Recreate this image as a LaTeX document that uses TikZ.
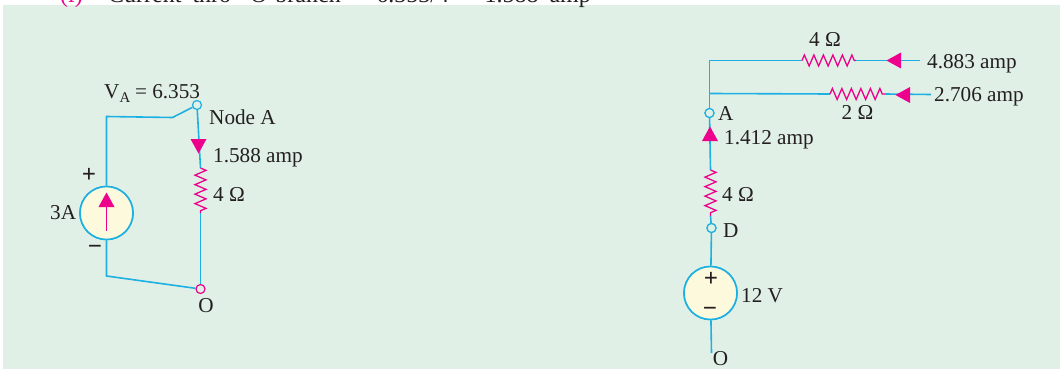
\documentclass[tikz,border=0pt]{standalone}
\usepackage{fontspec}
\setmainfont{Liberation Serif}
\usetikzlibrary{decorations.pathmorphing}

\definecolor{bgcol}{HTML}{E1F0E6}
\definecolor{wirecol}{HTML}{1DB0E2}
\definecolor{rescol}{HTML}{EC008C}
\definecolor{srccol}{HTML}{FDF9DC}
\definecolor{txtcol}{HTML}{231F20}

\tikzset{
    wire/.style={wirecol, line width=1.6pt},
    res/.style={rescol, line width=1.3pt, decorate, decoration={zigzag, amplitude=5.5pt, segment length=9.5pt}},
    term/.style={circle, draw=wirecol, fill=bgcol, line width=1.2pt, inner sep=0pt, minimum size=9pt},
    source/.style={circle, draw=wirecol, fill=srccol, line width=1.6pt, inner sep=0pt, minimum size=53pt},
    lbl/.style={text=txtcol, font=\fontsize{21.2}{24}\selectfont, inner sep=0pt},
    sign/.style={text=txtcol, font=\fontsize{25}{27}\selectfont\bfseries, inner sep=0pt},
    headline/.style={font=\fontsize{24}{26}\selectfont, inner sep=0pt},
    tip/.style={fill=rescol, draw=none}
}

% triangular arrow head: centre, then direction
\newcommand{\headat}[2]{\fill[tip, shift={(#1)}, rotate=#2] (7.5,0) -- (-7,8) -- (-7,-8) -- cycle;}

\begin{document}
\begin{tikzpicture}[x=1pt, y=-1pt]
    \useasboundingbox (0,0) rectangle (1060,369);
    \fill[bgcol] (3,5) rectangle (1060,369);

    % Line of text cut by the top edge
    \node[headline, anchor=base west, text=rescol] (num) at (60,3) {(i)};
    \node[headline, anchor=base west, text=txtcol] (head) at (108,3) {\spaceskip=11pt Current thro' O-branch = 6.353/4 = 1.588 amp};

    % Left circuit: nodes
    \node[source] (srcL) at (106.5,213) {};
    \node[term] (nodeA) at (197,105) {};
    \node[term, draw=rescol] (nodeO) at (200.5,289) {};
    \coordinate (kneeA) at (172.5,117.5);
    \coordinate (cornerT) at (106.5,116.5);
    \coordinate (cornerB) at (106.5,276);
    \coordinate (resLt) at (200.5,168);
    \coordinate (resLb) at (200.5,213);

    % Left circuit: wires
    \draw[wire] (srcL) -- (cornerT) -- (kneeA) -- (nodeA);
    \draw[wire] (nodeA) -- (resLt);
    \draw[wire] (resLb) -- (nodeO);
    \draw[wire] (srcL) -- (cornerB) -- (nodeO);
    \node[source] at (srcL) {};
    \draw[res] (resLt) -- (resLb);
    \draw[rescol, line width=1.3pt] (106.5,231) -- (106.5,203);
    \headat{106.5,200}{90}
    \headat{198.5,146}{-90}

    % Left circuit: labels
    \node[lbl, anchor=base west] (labVA) at (104,99) {V\textsubscript{A}\kern-1pt{} = 6.353};
    \node[lbl, anchor=base west] (labNode) at (209,124) {Node A};
    \node[lbl, anchor=base west] (labAmp) at (213,162) {1.588 amp};
    \node[lbl, anchor=base west] (labR) at (213,201) {4 Ω};
    \node[lbl, anchor=base west] (lab3A) at (50,219) {3A};
    \node[sign] (labPlus) at (89,175) {+};
    \node[sign] (labMinus) at (95,250) {−};
    \node[lbl, anchor=base] (labO) at (206,312) {O};

    % Right circuit: nodes
    \node[term] (nodeB) at (709.5,113) {};
    \node[term] (nodeD) at (711.5,228) {};
    \node[source] (srcR) at (710.5,293) {};
    \coordinate (endO) at (711.5,353);
    \coordinate (topC) at (709.5,60.5);
    \coordinate (midC) at (709.5,93.5);
    \coordinate (resAl) at (802,60.5);
    \coordinate (resAr) at (856,60.5);
    \coordinate (endA) at (919.5,60.5);
    \coordinate (resBl) at (830,94);
    \coordinate (resBr) at (885,94);
    \coordinate (endB) at (931,94.5);
    \coordinate (resCt) at (710.5,170);
    \coordinate (resCb) at (710.5,216);

    % Right circuit: wires
    \draw[wire] (nodeB) -- (topC) -- (resAl);
    \draw[res] (resAl) -- (resAr);
    \draw[wire] (resAr) -- (endA);
    \draw[wire] (midC) -- (resBl);
    \draw[res] (resBl) -- (resBr);
    \draw[wire] (resBr) -- (endB);
    \draw[wire] (nodeB) -- (resCt);
    \draw[res] (resCt) -- (resCb);
    \draw[wire] (resCb) -- (nodeD);
    \draw[wire] (nodeD) -- (srcR);
    \draw[wire] (srcR) -- (endO);
    \node[source] at (srcR) {};
    \node[term] at (nodeB) {};
    \node[term] at (nodeD) {};
    \headat{894,60.5}{180}
    \headat{903,95}{180}
    \headat{710,134}{90}

    % Right circuit: labels
    \node[lbl, anchor=base] (labRa) at (825,47) {4 Ω};
    \node[lbl, anchor=base west] (labIa) at (927,68) {4.883 amp};
    \node[lbl, anchor=base west] (labIb) at (934,101) {2.706 amp};
    \node[lbl, anchor=base] (labRb) at (857.5,119) {2 Ω};
    \node[lbl, anchor=base west] (labA) at (718,120.5) {A};
    \node[lbl, anchor=base west] (labIc) at (724,144) {1.412 amp};
    \node[lbl, anchor=base west] (labRc) at (722,201.5) {4 Ω};
    \node[lbl, anchor=base west] (labD) at (723,237.5) {D};
    \node[lbl, anchor=base west] (lab12) at (741,302.5) {12 V};
    \node[lbl, anchor=base] (labOr) at (720.5,365) {O};
    \node[sign] (labPr) at (711,279) {+};
    \node[sign] (labMr) at (710,312) {−};
\end{tikzpicture}
\end{document}
